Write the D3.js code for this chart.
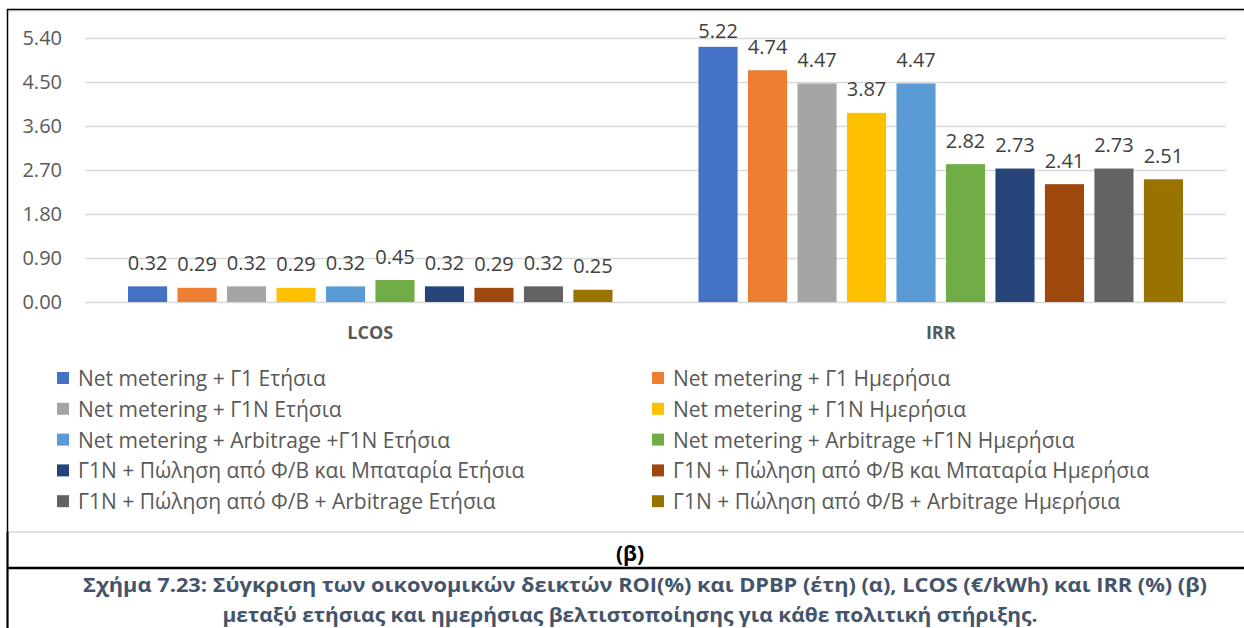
<!DOCTYPE html>
<html>
<head>
<meta charset="utf-8">
<script src="https://cdn.jsdelivr.net/npm/d3@7"></script>
<style>
  html, body { margin: 0; padding: 0; background: #fff; }
  svg { display: block; }
</style>
</head>
<body>
<svg id="chart" width="1244" height="628"></svg>
<script>
// Economic indicators per support policy, annual vs daily optimisation
const categories = ["LCOS", "IRR"];
const seriesNames = [
  "Net metering + Γ1 Ετήσια",
  "Net metering + Γ1 Ημερήσια",
  "Net metering + Γ1Ν Ετήσια",
  "Net metering + Γ1Ν Ημερήσια",
  "Net metering + Arbitrage +Γ1Ν Ετήσια",
  "Net metering + Arbitrage +Γ1Ν Ημερήσια",
  "Γ1Ν + Πώληση από Φ/Β και Μπαταρία Ετήσια",
  "Γ1Ν + Πώληση από Φ/Β και Μπαταρία Ημερήσια",
  "Γ1Ν + Πώληση από Φ/Β + Arbitrage Ετήσια",
  "Γ1Ν + Πώληση από Φ/Β + Arbitrage Ημερήσια"
];
const lcosValues = [0.32, 0.29, 0.32, 0.29, 0.32, 0.45, 0.32, 0.29, 0.32, 0.25];
const irrValues  = [5.22, 4.74, 4.47, 3.87, 4.47, 2.82, 2.73, 2.41, 2.73, 2.51];
const yTickValues = [0, 0.9, 1.8, 2.7, 3.6, 4.5, 5.4];
const seriesColors = ["#4472C4", "#ED7D31", "#A5A5A5", "#FFC000", "#5B9BD5",
                      "#70AD47", "#264478", "#9E480E", "#636363", "#997300"];
const subLabel = "(β)";
const captionLines = [
  "Σχήμα 7.23: Σύγκριση των οικονομικών δεικτών ROI(%) και DPBP (έτη) (α), LCOS (€/kWh) και IRR (%) (β)",
  "μεταξύ ετήσιας και ημερήσιας βελτιστοποίησης για κάθε πολιτική στήριξης."
];

const valuesByCategory = { LCOS: lcosValues, IRR: irrValues };

const svg = d3.select("#chart");
const FONT = "'Open Sans', 'Noto Sans', sans-serif";
const TEXT_GREY = "#595959";
const GRID = "#D9D9D9";

const plot = { left: 85, right: 1226, top: 38, bottom: 302 };

const y = d3.scaleLinear().domain([0, 5.4]).range([plot.bottom, plot.top]);

const x0 = d3.scaleBand().domain(categories).range([plot.left, plot.right]).paddingInner(0);
const groupPad = 43;
const x1 = d3.scaleBand()
  .domain(d3.range(seriesNames.length))
  .range([groupPad, x0.bandwidth() - groupPad])
  .paddingInner(0.21);

// ---- frame (document table borders + chart area border)
const frame = svg.append("g");
frame.append("line").attr("x1", 7).attr("x2", 1244).attr("y1", 11).attr("y2", 11)
  .attr("stroke", GRID).attr("stroke-width", 1.2);
frame.append("line").attr("x1", 7).attr("x2", 1244).attr("y1", 9.5).attr("y2", 9.5)
  .attr("stroke", "#000").attr("stroke-width", 1.5);
frame.append("line").attr("x1", 8).attr("x2", 1244).attr("y1", 532).attr("y2", 532)
  .attr("stroke", GRID).attr("stroke-width", 1.5);
frame.append("line").attr("x1", 7.5).attr("x2", 7.5).attr("y1", 9).attr("y2", 532)
  .attr("stroke", "#000").attr("stroke-width", 1.5);
frame.append("line").attr("x1", 7.5).attr("x2", 7.5).attr("y1", 532).attr("y2", 628)
  .attr("stroke", "#000").attr("stroke-width", 2.2);
frame.append("line").attr("x1", 7).attr("x2", 1244).attr("y1", 568).attr("y2", 568)
  .attr("stroke", "#000").attr("stroke-width", 2.4);

// ---- y axis with gridlines
const yAxis = d3.axisLeft(y)
  .tickValues(yTickValues)
  .tickFormat(d3.format(".2f"))
  .tickSize(-(plot.right - plot.left))
  .tickPadding(23);

const yg = svg.append("g").attr("transform", `translate(${plot.left},0)`).call(yAxis);
yg.select(".domain").remove();
yg.selectAll(".tick line").attr("stroke", GRID).attr("stroke-width", 1.4);
yg.selectAll(".tick text")
  .attr("fill", TEXT_GREY)
  .style("font-family", FONT)
  .style("font-size", "20px");

// ---- x axis (category labels)
const xAxis = d3.axisBottom(x0).tickSize(0).tickPadding(24);
const xg = svg.append("g").attr("transform", `translate(0,${plot.bottom})`).call(xAxis);
xg.select(".domain").remove();
xg.selectAll(".tick text")
  .attr("fill", TEXT_GREY)
  .style("font-family", FONT)
  .style("font-size", "18px")
  .style("font-weight", "bold");

// ---- bars and value labels
const groups = svg.append("g").selectAll("g.cat")
  .data(categories)
  .join("g")
  .attr("class", "cat")
  .attr("transform", d => `translate(${x0(d)},0)`);

groups.selectAll("rect")
  .data(c => valuesByCategory[c].map((v, i) => ({ v, i })))
  .join("rect")
  .attr("x", d => x1(d.i))
  .attr("width", x1.bandwidth())
  .attr("y", d => y(d.v))
  .attr("height", d => y(0) - y(d.v))
  .attr("fill", d => seriesColors[d.i]);

groups.selectAll("text.val")
  .data(c => valuesByCategory[c].map((v, i) => ({ v, i })))
  .join("text")
  .attr("class", "val")
  .attr("x", d => x1(d.i) + x1.bandwidth() / 2)
  .attr("y", d => Math.max(y(d.v) - 24, 30))
  .attr("text-anchor", "middle")
  .attr("dominant-baseline", "central")
  .attr("fill", "#404040")
  .style("font-family", FONT)
  .style("font-size", "20px")
  .text(d => d.v.toFixed(2));

// ---- legend, two columns
const legendCols = [57, 652];
const legendTop = 378;
const legendStep = 30.8;
const legend = svg.append("g").selectAll("g.item")
  .data(seriesNames.map((name, i) => ({ name, i })))
  .join("g")
  .attr("class", "item")
  .attr("transform", d => `translate(${legendCols[d.i % 2]},${legendTop + Math.floor(d.i / 2) * legendStep})`);

legend.append("rect")
  .attr("x", 0).attr("y", -6).attr("width", 12).attr("height", 12)
  .attr("fill", d => seriesColors[d.i]);

legend.append("text")
  .attr("x", 21).attr("y", 0)
  .attr("dominant-baseline", "central")
  .attr("fill", TEXT_GREY)
  .style("font-family", FONT)
  .style("font-size", "21px")
  .text(d => d.name);

// ---- sub-figure label and caption
svg.append("text")
  .attr("x", 630).attr("y", 553)
  .attr("text-anchor", "middle")
  .attr("dominant-baseline", "central")
  .attr("fill", "#000")
  .style("font-family", FONT)
  .style("font-size", "21px")
  .style("font-weight", "bold")
  .text(subLabel);

const captionCenters = [645, 630];
const captionWidths = [1124, 815];
svg.append("g").selectAll("text")
  .data(captionLines)
  .join("text")
  .attr("x", (d, i) => captionCenters[i])
  .attr("y", (d, i) => 592 + i * 30)
  .attr("text-anchor", "middle")
  .attr("fill", "#44546A")
  .attr("textLength", (d, i) => captionWidths[i])
  .attr("lengthAdjust", "spacingAndGlyphs")
  .style("font-family", FONT)
  .style("font-size", "20px")
  .style("font-weight", "bold")
  .text(d => d);
</script>
</body>
</html>
